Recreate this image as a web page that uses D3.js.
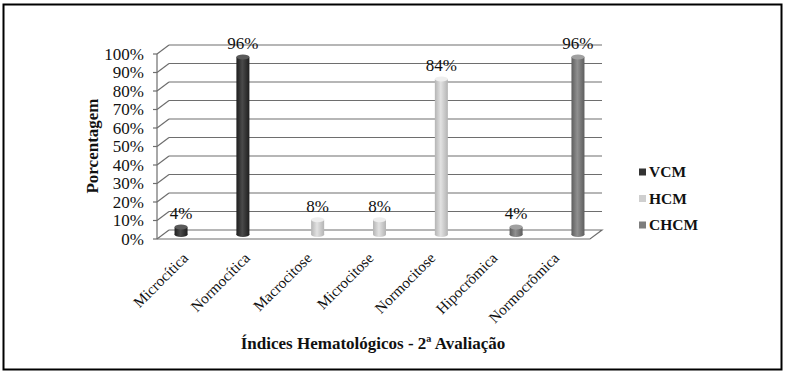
<!DOCTYPE html>
<html lang="pt">
<head>
<meta charset="UTF-8">
<title>Índices Hematológicos - 2ª Avaliação</title>
<script src="https://d3js.org/d3.v7.min.js"></script>
<style>
  body { margin: 0; background: #fff; }
  svg text { font-family: 'Liberation Serif', 'Times New Roman', serif; fill: #111; }
  .tick-label { font-size: 17px; }
  .cat-label { font-size: 15.2px; }
  .val-label { font-size: 17px; }
  .title { font-size: 17px; font-weight: bold; }
  .legend text { font-size: 15.5px; font-weight: bold; }
</style>
</head>
<body>
<svg width="785" height="373"></svg>
<script>
  const categories = ["Microcítica", "Normocítica", "Macrocitose", "Microcitose", "Normocitose", "Hipocrômica", "Normocrômica"];
  const series = ["VCM", "HCM", "CHCM"];
  const seriesOf = ["VCM", "VCM", "HCM", "HCM", "HCM", "CHCM", "CHCM"];
  const values = [4, 96, 8, 8, 84, 4, 96];
  const yTicks = [0, 10, 20, 30, 40, 50, 60, 70, 80, 90, 100];

  const svg = d3.select("svg");

  // outer frame
  svg.append("rect")
    .attr("x", 3.5).attr("y", 4.5).attr("width", 778).attr("height", 365)
    .attr("fill", "none").attr("stroke", "#000").attr("stroke-width", 2);

  const dx = 12, dy = -9;             // depth offset of the back wall
  const left = 157, right = 590;     // front plane
  const y = d3.scaleLinear().domain([0, 100]).range([239, 54]);

  const x = d3.scaleBand().domain(categories).range([left, right]);
  const xs = d3.scaleBand().domain(series).range([0, x.bandwidth()]).paddingOuter(0.9);

  const colors = {
    VCM:  ["#1e1e1e", "#4a4a4a", "#5a5a5a"],
    HCM:  ["#b4b4b4", "#e2e2e2", "#eeeeee"],
    CHCM: ["#5e5e5e", "#909090", "#a0a0a0"]
  };
  const legendColor = { VCM: "#333", HCM: "#cfcfcf", CHCM: "#7e7e7e" };

  const defs = svg.append("defs");
  series.forEach(s => {
    const g = defs.append("linearGradient").attr("id", "g" + s)
      .attr("x1", "0").attr("x2", "1").attr("y1", "0").attr("y2", "0");
    g.append("stop").attr("offset", "0%").attr("stop-color", colors[s][0]);
    g.append("stop").attr("offset", "45%").attr("stop-color", colors[s][1]);
    g.append("stop").attr("offset", "100%").attr("stop-color", colors[s][0]);
  });

  const grid = svg.append("g").attr("stroke", "#6e6e6e").attr("stroke-width", 1.2).attr("fill", "none");

  // back wall gridlines + side diagonals
  yTicks.forEach(t => {
    if (t > 0) {
      grid.append("line")
        .attr("x1", left + dx).attr("x2", right + dx)
        .attr("y1", y(t) + dy).attr("y2", y(t) + dy);
    }
    grid.append("line")
      .attr("x1", left).attr("x2", left + dx)
      .attr("y1", y(t)).attr("y2", y(t) + dy);
    grid.append("line")
      .attr("x1", left - 4).attr("x2", left)
      .attr("y1", y(t)).attr("y2", y(t));
  });
  // vertical axis line
  grid.append("line").attr("x1", left).attr("x2", left).attr("y1", y(0)).attr("y2", y(100));
  // floor
  grid.append("path")
    .attr("d", `M${left},${y(0)} L${right},${y(0)} L${right + dx},${y(0) + dy} L${left + dx},${y(0) + dy}`);

  // y tick labels
  svg.append("g").selectAll("text")
    .data(yTicks).join("text")
    .attr("class", "tick-label")
    .attr("x", left - 13).attr("y", d => y(d))
    .attr("dy", "0.35em")
    .attr("text-anchor", "end")
    .text(d => d + "%");

  // cylinders
  const data = categories.map((c, i) => ({ cat: c, s: seriesOf[i], v: values[i] }));
  const bw = 13, ry = 2.5;
  const mx = dx / 2, my = dy / 2;
  const bars = svg.append("g").selectAll("g").data(data).join("g");
  const cx = d => x(d.cat) + xs(d.s) + xs.bandwidth() / 2 + mx;

  bars.append("ellipse")
    .attr("cx", cx).attr("cy", y(0) + my)
    .attr("rx", bw / 2).attr("ry", ry)
    .attr("fill", d => `url(#g${d.s})`);
  bars.append("rect")
    .attr("x", d => cx(d) - bw / 2).attr("width", bw)
    .attr("y", d => y(d.v) + my)
    .attr("height", d => y(0) - y(d.v))
    .attr("fill", d => `url(#g${d.s})`);
  bars.append("ellipse")
    .attr("cx", cx).attr("cy", d => y(d.v) + my)
    .attr("rx", bw / 2).attr("ry", ry)
    .attr("fill", d => colors[d.s][2]);

  // value labels
  bars.append("text")
    .attr("class", "val-label")
    .attr("x", cx).attr("y", d => y(d.v) + my - 8)
    .attr("text-anchor", "middle")
    .text(d => d.v + "%");

  // category labels
  svg.append("g").selectAll("text")
    .data(categories).join("text")
    .attr("class", "cat-label")
    .attr("text-anchor", "end")
    .attr("transform", d => `translate(${x(d) + x.bandwidth() / 2 + 1},${y(0) + 20}) rotate(-45)`)
    .text(d => d);

  // axis titles
  svg.append("text").attr("class", "title")
    .attr("text-anchor", "middle")
    .attr("transform", `translate(98,146) rotate(-90)`)
    .text("Porcentagem");
  svg.append("text").attr("class", "title")
    .attr("text-anchor", "middle")
    .attr("x", 373).attr("y", 349)
    .text("Índices Hematológicos - 2ª Avaliação");

  // legend
  const legend = svg.append("g").attr("class", "legend")
    .selectAll("g").data(series).join("g")
    .attr("transform", (d, i) => `translate(639,${172 + i * 26.5})`);
  legend.append("rect")
    .attr("x", 0).attr("y", -3.5).attr("width", 7).attr("height", 7)
    .attr("fill", d => legendColor[d]);
  legend.append("text")
    .attr("x", 10).attr("dy", "0.35em")
    .text(d => d);
</script>
</body>
</html>
